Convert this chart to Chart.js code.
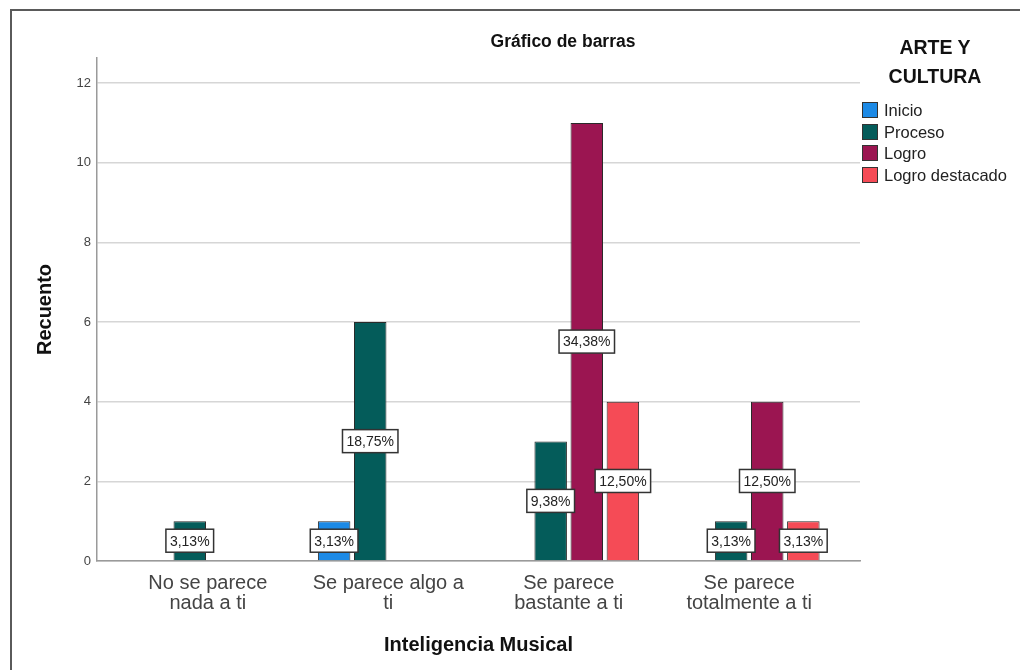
<!DOCTYPE html>
<html>
<head>
<meta charset="utf-8">
<script src="https://cdn.jsdelivr.net/npm/chart.js"></script>
<style>
  html, body { margin: 0; padding: 0; background: #fff; }
  #wrap { position: relative; width: 1020px; height: 670px; overflow: hidden; font-family: "Liberation Sans", Arial, sans-serif; }
  #frame { position: absolute; left: 10px; top: 9px; width: 1030px; height: 680px; border-top: 2px solid #5a5a5a; border-left: 2px solid #5a5a5a; }
  canvas { position: absolute; left: 0; top: 0; }
  #title { position: absolute; left: 413px; width: 300px; top: 31px; text-align: center; font-weight: bold; font-size: 17.5px; color: #111; }
  #legendTitle { position: absolute; left: 860px; width: 150px; top: 33px; text-align: center; font-weight: bold; font-size: 19.5px; line-height: 29px; color: #111; }
  .item { position: absolute; left: 862px; height: 18px; font-size: 16.5px; line-height: 18px; color: #222; white-space: nowrap; }
  .item span { position: absolute; left: 0; top: 1px; width: 14px; height: 14px; border: 1.5px solid #333; }
  .item b { position: absolute; left: 22px; top: 0; font-weight: normal; }
</style>
</head>
<body>
<div id="wrap">
  <div id="frame"></div>
  <canvas id="barChart" width="1020" height="670"></canvas>
  <div id="title">Gráfico de barras</div>
  <div id="legendTitle">ARTE Y<br>CULTURA</div>
  <div id="legend"></div>
</div>
<script>
// Inteligencia Musical vs ARTE Y CULTURA (recuento)
const categories = [
  ['No se parece', 'nada a ti'],
  ['Se parece algo a', 'ti'],
  ['Se parece', 'bastante a ti'],
  ['Se parece', 'totalmente a ti']
];
const seriesNames = ['Inicio', 'Proceso', 'Logro', 'Logro destacado'];
const seriesColors = ['#1c8ae6', '#045c5a', '#9b1551', '#f54b56'];
const inicio = [null, 1, null, null];
const proceso = [1, 6, 3, 1];
const logro = [null, null, 11, 4];
const logroDestacado = [null, null, 4, 1];
const yTicks = [0, 2, 4, 6, 8, 10, 12];

const seriesValues = [inicio, proceso, logro, logroDestacado];
const total = seriesValues.flat().reduce((a, b) => a + (b || 0), 0);

// legend (html)
const legend = document.getElementById('legend');
seriesNames.forEach((name, s) => {
  const div = document.createElement('div');
  div.className = 'item';
  div.style.top = (101 + s * 21.7) + 'px';
  div.innerHTML = '<span style="background:' + seriesColors[s] + '"></span><b>' + name + '</b>';
  legend.appendChild(div);
});

// percentage boxes in the middle of each bar
const pctLabels = {
  id: 'pctLabels',
  afterDatasetsDraw(chart) {
    const ctx = chart.ctx;
    ctx.save();
    ctx.font = '14px "Liberation Sans", Arial, sans-serif';
    ctx.textAlign = 'center';
    ctx.textBaseline = 'middle';
    chart.data.datasets.forEach((ds, d) => {
      chart.getDatasetMeta(d).data.forEach((bar, i) => {
        const v = ds.data[i].y;
        if (v == null) return;
        const txt = (v / total * 100).toFixed(2).replace('.', ',') + '%';
        const cy = (bar.y + bar.base) / 2;
        const w = ctx.measureText(txt).width + 8;
        const h = 23;
        ctx.fillStyle = '#fff';
        ctx.fillRect(bar.x - w / 2, cy - h / 2, w, h);
        ctx.strokeStyle = '#333';
        ctx.lineWidth = 1.5;
        ctx.strokeRect(bar.x - w / 2, cy - h / 2, w, h);
        ctx.fillStyle = '#222';
        ctx.fillText(txt, bar.x, cy + 1);
      });
    });
    ctx.restore();
  }
};

Chart.defaults.font.family = '"Liberation Sans", Arial, sans-serif';

const ctx = document.getElementById('barChart').getContext('2d');
const chart = new Chart(ctx, {
  type: 'bar',
  data: {
    datasets: seriesValues.map((vals, s) => ({
      label: seriesNames[s],
      data: vals.map((v, i) => ({ x: i, y: v })),
      backgroundColor: seriesColors[s],
      borderColor: '#2a2a2a',
      borderWidth: 1,
      categoryPercentage: 0.8,
      barPercentage: 0.9
    }))
  },
  options: {
    responsive: false,
    animation: false,
    layout: { padding: { left: 0, top: 58, right: 160, bottom: 0 } },
    plugins: {
      legend: { display: false },
      tooltip: { enabled: false }
    },
    scales: {
      x: {
        type: 'linear',
        min: -0.614,
        max: categories.length - 1 + 0.614,
        offset: false,
        grid: { display: false, offset: false, drawTicks: false },
        border: { display: true, color: '#9a9a9a', width: 1.5 },
        ticks: {
          stepSize: 1,
          includeBounds: false,
          autoSkip: false,
          maxRotation: 0,
          padding: 12,
          color: '#444',
          font: { size: 20, lineHeight: 1.0 },
          callback: v => categories[Math.round(v)]
        },
        title: {
          display: true,
          text: 'Inteligencia Musical',
          color: '#111',
          font: { size: 20, weight: 'bold' },
          padding: { top: 0, bottom: 13 }
        },
        afterFit: s => { s.height = 109; }
      },
      y: {
        min: yTicks[0],
        max: 12.63,
        grid: { color: '#d6d6d6', lineWidth: 1.5, drawTicks: false },
        border: { display: true, color: '#9a9a9a', width: 1.5 },
        ticks: {
          stepSize: yTicks[1] - yTicks[0],
          includeBounds: false,
          padding: 6,
          color: '#444',
          font: { size: 13 }
        },
        title: {
          display: true,
          text: 'Recuento',
          color: '#111',
          font: { size: 20, weight: 'bold' },
          padding: { top: 33, bottom: 0 }
        },
        afterFit: s => { s.width = 97; }
      }
    }
  },
  plugins: [pctLabels]
});
</script>
</body>
</html>
